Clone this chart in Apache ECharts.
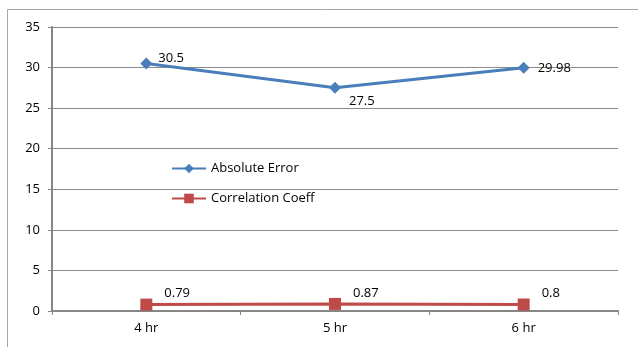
<!DOCTYPE html>
<html><head><meta charset="utf-8">
<script src="https://cdn.jsdelivr.net/npm/echarts@6/dist/echarts.min.js"></script>
<style>html,body{margin:0;padding:0;background:#fff}#c{width:638px;height:347px}</style>
</head><body><div id="c"></div>
<script>
const categories = ['4 hr', '5 hr', '6 hr'];
const absoluteError = [30.5, 27.5, 29.98];
const correlationCoeff = [0.79, 0.87, 0.8];
const seriesNames = ['Absolute Error', 'Correlation Coeff'];
const yTicks = [0, 5, 10, 15, 20, 25, 30, 35];

const font = 'Open Sans, Noto Sans, sans-serif';
const chart = echarts.init(document.getElementById('c'));
chart.setOption({
  animation: false,
  textStyle: { fontFamily: font },
  graphic: [{ type: 'rect', shape: { x: 7.5, y: 9.5, width: 700, height: 400 }, style: { fill: 'none', stroke: '#a6a6a6', lineWidth: 1 } }],
  grid: { left: 52, right: 20, top: 27, bottom: 36 },
  legend: {
    orient: 'vertical', left: 166, top: 157, itemGap: 17, itemWidth: 34, itemHeight: 12,
    textStyle: { fontSize: 13, color: '#000', fontFamily: font },
    data: seriesNames
  },
  xAxis: {
    type: 'category', data: categories, boundaryGap: true,
    axisLine: { lineStyle: { color: '#868686', width: 2 } },
    axisTick: { show: true, length: 4, lineStyle: { color: '#868686' } },
    axisLabel: { color: '#000', fontSize: 13, margin: 11, fontFamily: font }
  },
  yAxis: {
    type: 'value', min: yTicks[0], max: yTicks[yTicks.length - 1], interval: 5,
    axisLine: { show: true, lineStyle: { color: '#868686', width: 2 } },
    axisTick: { show: true, length: 4, lineStyle: { color: '#868686' } },
    splitLine: { lineStyle: { color: '#8c8c8c', width: 1 } },
    axisLabel: { color: '#000', fontSize: 13, margin: 12, fontFamily: font }
  },
  series: [
    {
      name: seriesNames[0], type: 'line', data: absoluteError,
      symbol: 'diamond', symbolSize: 12, color: '#4a7ebb',
      lineStyle: { width: 3, color: '#4a7ebb' },
      label: { show: true, fontSize: 13, color: '#000', fontFamily: font,
        formatter: p => String(absoluteError[p.dataIndex]),
        position: 'right', distance: 6 },
      labelLayout: function (p) {
        const offs = [[0, -5], [2, 13], [2, 1]];
        return { dx: offs[p.dataIndex][0], dy: offs[p.dataIndex][1] };
      }
    },
    {
      name: seriesNames[1], type: 'line', data: correlationCoeff,
      symbol: 'rect', symbolSize: 12, color: '#be4b48',
      lineStyle: { width: 3, color: '#be4b48' },
      label: { show: true, fontSize: 13, color: '#000', fontFamily: font,
        formatter: p => String(correlationCoeff[p.dataIndex]),
        position: 'right', distance: 8 },
      labelLayout: function (p) {
        return { dx: 4, dy: -11 };
      }
    }
  ]
});
</script></body></html>
